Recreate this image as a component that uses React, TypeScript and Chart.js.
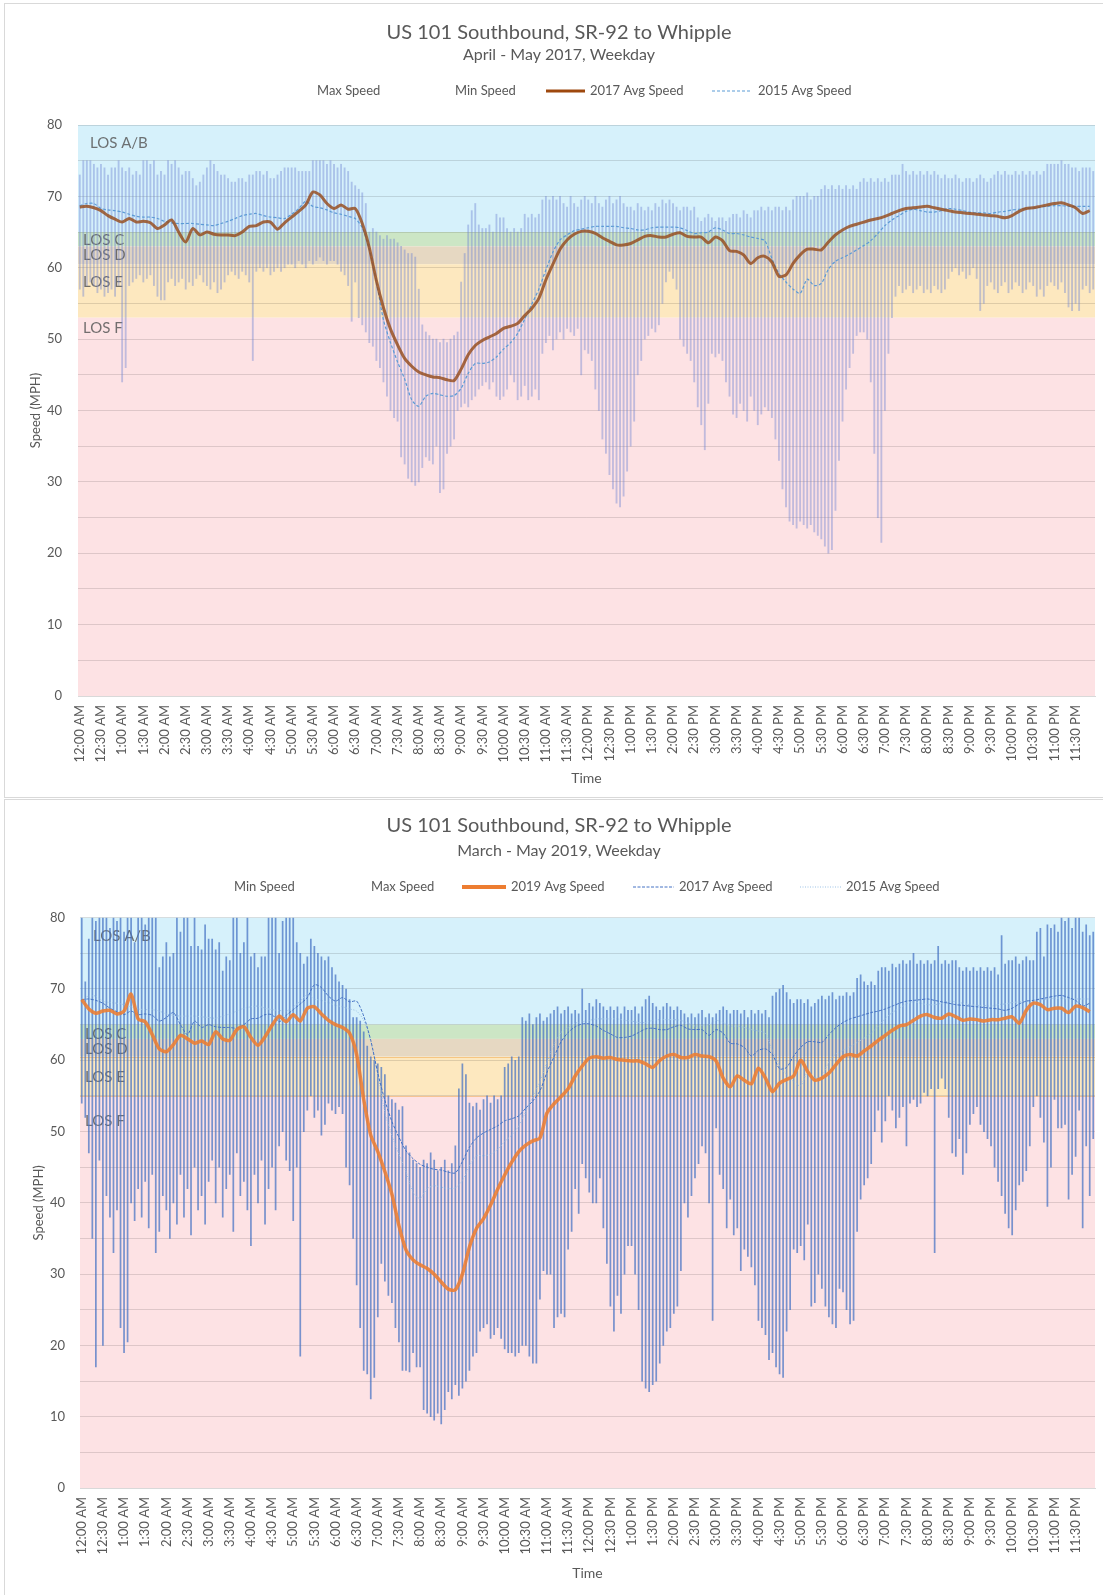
import React, { useEffect, useRef } from 'react';
import { Chart, registerables } from 'chart.js';

Chart.register(...registerables);

const FONT = 'Lato, "Open Sans", sans-serif';
const TEXT = '#595959';

const TIME_LABELS = [
  '12:00 AM', '12:30 AM', '1:00 AM', '1:30 AM', '2:00 AM', '2:30 AM', '3:00 AM', '3:30 AM',
  '4:00 AM', '4:30 AM', '5:00 AM', '5:30 AM', '6:00 AM', '6:30 AM', '7:00 AM', '7:30 AM',
  '8:00 AM', '8:30 AM', '9:00 AM', '9:30 AM', '10:00 AM', '10:30 AM', '11:00 AM', '11:30 AM',
  '12:00 PM', '12:30 PM', '1:00 PM', '1:30 PM', '2:00 PM', '2:30 PM', '3:00 PM', '3:30 PM',
  '4:00 PM', '4:30 PM', '5:00 PM', '5:30 PM', '6:00 PM', '6:30 PM', '7:00 PM', '7:30 PM',
  '8:00 PM', '8:30 PM', '9:00 PM', '9:30 PM', '10:00 PM', '10:30 PM', '11:00 PM', '11:30 PM',
];

const LOS_NAMES = ['LOS A/B', 'LOS C', 'LOS D', 'LOS E', 'LOS F'];
const LOS_BOUNDS_2017 = [80, 65, 63, 60.5, 53, 0];
const LOS_BOUNDS_2019 = [80, 65, 63, 60.5, 55, 0];
const LOS_COLORS = ['#d6f1fb', '#cce6c5', '#e6d8c2', '#fde8bf', '#fde2e4'];

// 5-minute bins (288 per day)
const MAX_2017 = [
  73, 75, 75, 75, 74.5, 74, 74.5, 74, 73, 74, 74, 75,
  74, 73.5, 74, 73, 73.5, 73, 75, 75, 74.5, 75, 73, 73.5,
  73, 75, 74.5, 75, 74, 73, 73.5, 73.5, 72.5, 71.5, 72, 73,
  74, 75, 74.5, 73.5, 73, 73, 72.5, 72, 72, 72.5, 72.5, 72,
  73, 73, 73.5, 73.5, 73, 73.5, 72.5, 72.5, 73, 73.5, 74, 74,
  74, 74, 73.5, 73.5, 73.5, 73.5, 75, 75, 75, 75, 74.5, 75,
  74.5, 74, 74.5, 74, 73.5, 72, 71.5, 71, 70.5, 69, 65, 65.5,
  65, 64.5, 64, 64.5, 64, 64, 63.5, 63, 62.5, 62, 62, 61.5,
  57, 52, 51, 50.5, 50, 50, 49.5, 50, 49.5, 50, 50.5, 51,
  58, 62, 66, 68, 69, 66, 65.5, 65.5, 66, 65, 67.5, 67,
  67, 65.5, 65, 65.5, 65, 65.5, 67.5, 67, 67.5, 67, 67.5, 69.5,
  70, 69.5, 70, 69.5, 70, 69, 68.5, 70, 69, 68.5, 69.5, 70,
  69.5, 69, 70, 69, 68.5, 69.5, 70, 69, 69.5, 70, 69, 68.5,
  68.5, 68, 69, 68.5, 68, 68.5, 68, 69, 68.5, 69.5, 69, 69.5,
  69, 68.5, 68, 68.5, 68.5, 68, 68.5, 67, 66.5, 67, 67.5, 67,
  66.5, 67, 67, 66.5, 67, 67.5, 67.5, 67, 68, 67.5, 67, 68,
  68, 68.5, 68, 68.5, 68, 68.5, 68.5, 68, 68.5, 68, 69.5, 70,
  70, 70, 70.5, 69.5, 70, 70, 71, 71.5, 71, 71.5, 71, 71.5,
  71, 71.5, 71, 71.5, 71, 72, 72.5, 72, 72.5, 72, 72.5, 72,
  72.5, 72, 73, 73, 73, 74.5, 73.5, 73, 73.5, 73, 73.5, 73,
  73.5, 73, 73.5, 73, 72.5, 73, 72.5, 72.5, 73, 72.5, 72, 72.5,
  72.5, 72, 72.5, 73, 72.5, 72, 72.5, 73, 73.5, 73, 73.5, 73,
  73, 73.5, 73, 73.5, 73, 73.5, 73, 73.5, 73, 73.5, 74.5, 74.5,
  74.5, 74.5, 75, 74.5, 74.5, 74, 74, 73.5, 74, 74, 74, 73.5,
];

const MIN_2017 = [
  57, 56, 57.5, 58, 57.5, 56.5, 57, 56, 56.5, 57, 56, 57.5,
  44, 46, 57.5, 58, 58.5, 59, 58, 58.5, 59, 57.5, 56, 55.5,
  55.5, 58, 58.5, 57.5, 58, 58.5, 57, 58, 57.5, 58.5, 59, 58,
  57.5, 57, 58, 56.5, 57, 58, 59, 59.5, 59, 58.5, 59.5, 59,
  58, 47, 59.5, 60, 59.5, 60, 59, 59.5, 60, 59.5, 60, 60.5,
  60.5, 60, 61, 60.5, 60, 61, 60.5, 61, 61.5, 61, 60.5, 61,
  61, 60.5, 59.5, 59, 57.5, 52.5, 58, 53, 52, 51, 49.5, 49,
  47, 46, 44, 42, 40, 39, 38.5, 33.5, 32.5, 30.5, 30, 29.5,
  30, 32, 33.5, 33, 32.5, 35, 28.5, 29, 34, 35, 36, 40,
  40.5, 41, 40.5, 41.5, 42, 43, 43.5, 44, 43, 44, 42, 41.5,
  42, 43, 45, 44, 41.5, 42, 43.5, 41.5, 42, 43, 41.5, 48,
  49.5, 50.5, 48.5, 50, 51, 50, 51.5, 51, 50.5, 51.5, 45, 48.5,
  48, 47, 43, 40, 36, 34, 31, 29, 27, 26.5, 28, 31.5,
  35, 38.5, 45, 47, 50, 50.5, 51.5, 51, 52, 55, 58, 59.5,
  58.5, 57, 50, 49, 48, 47, 44, 40.5, 38, 34.5, 41, 48,
  47.5, 48, 47, 44, 42, 39.5, 39, 41, 40, 38.5, 42, 40,
  38, 39.5, 40.5, 40, 39, 36, 33, 29, 26.5, 24.5, 24, 23.5,
  24.5, 24, 23.5, 24, 23, 22.5, 22, 21, 20, 20.5, 26, 33,
  38.5, 43, 46, 48, 50.5, 51, 51, 50, 44, 34, 25, 21.5,
  40, 48, 53, 56, 57.5, 56.5, 57, 57.5, 56.5, 57, 57.5, 56.5,
  57, 56.5, 57.5, 57, 56.5, 57, 58.5, 59.5, 60, 59, 59.5, 58.5,
  59, 60, 58.5, 54, 55, 57.5, 58, 57, 56.5, 57.5, 58, 56.5,
  57, 58, 57.5, 56.5, 57, 58, 57.5, 56, 57, 56, 57.5, 58,
  57.5, 57, 58, 56.5, 54.5, 54, 55, 54, 57, 57.5, 56.5, 57,
];

const MAX_2019 = [
  80, 71, 77, 80, 79.5, 80, 80, 80, 78.5, 80, 79.5, 80,
  78, 80, 80, 76.5, 80, 80, 79, 80, 80, 80, 73, 74.5,
  76.5, 74.5, 75, 80, 78, 80, 80, 76, 80, 76, 75.5, 79,
  77, 77, 75.5, 76.5, 72.5, 74.5, 74, 80, 80, 75, 76.5, 80,
  74.5, 75, 73, 74.5, 74.5, 80, 80, 80, 75, 79.5, 80, 80,
  80, 76.5, 75, 73.5, 74.5, 77, 76, 75, 74.5, 74, 74.5, 73,
  72, 71, 70.5, 70, 68.5, 66, 66, 65.5, 64, 62, 60.5, 60,
  59.5, 59, 58, 55, 54.5, 54, 53, 53.5, 48, 47, 46, 45.5,
  45, 46, 45.5, 47, 46, 44.5, 45, 46, 44.5, 45.5, 48, 56,
  59.5, 58, 54, 53.5, 54, 53, 54.5, 55, 54, 55, 54.5, 55,
  59, 59.5, 60.5, 60, 60.5, 66, 65.5, 66.5, 65, 66, 66.5, 65.5,
  66, 66.5, 67, 67.5, 66.5, 67, 67.5, 66.5, 67, 66.5, 70, 67,
  68, 67.5, 68.5, 68, 67.5, 67, 67.5, 67, 67.5, 66.5, 67.5, 67,
  67, 67.5, 66.5, 67.5, 68.5, 69, 68, 67.5, 67, 67.5, 68, 67.5,
  67, 67.5, 67, 66.5, 66, 66.5, 66, 66.5, 67, 66, 66.5, 66,
  66.5, 67, 67.5, 67, 66.5, 67, 67, 66.5, 67, 66, 67, 66.5,
  67, 66.5, 67, 66, 69, 69.5, 70, 70.5, 69.5, 68.5, 68, 68.5,
  68.5, 68, 68.5, 67.5, 68, 68.5, 69, 68.5, 69, 69.5, 68.5, 69,
  69, 69.5, 69, 69.5, 71.5, 72, 71, 70.5, 71, 70.5, 72.5, 73,
  73, 72.5, 73.5, 73, 73.5, 74, 73.5, 74, 75, 73.5, 74, 73.5,
  74, 73.5, 74, 76, 73.5, 74, 73.5, 74, 74, 73, 72.5, 73,
  72.5, 73, 72.5, 73, 72.5, 73, 72.5, 73, 72, 77.5, 73.5, 74,
  74, 74.5, 73.5, 74, 74.5, 74, 74, 78, 78.5, 74.5, 79, 78.5,
  79, 78, 80, 79.5, 80, 78.5, 80, 80, 78, 79, 77.5, 78,
];

const MIN_2019 = [
  54, 52, 47, 35, 17, 46, 20, 41, 38, 33, 39, 22.5,
  19, 20.5, 40, 37.5, 42, 38, 43, 36.5, 44, 33, 36, 41,
  39, 35, 40, 37, 44, 38, 42, 35.5, 45, 39, 41, 37,
  43, 46, 40, 45, 38, 42, 44, 36, 47, 41, 43, 39,
  34, 44, 40, 46, 37, 42, 45, 39, 48, 50, 46, 44.5,
  37.5, 45, 18.5, 50, 53, 55, 52, 53, 49.5, 51, 54, 53,
  52.5, 53.5, 52.5, 45, 42.5, 35, 28.5, 22.5, 16.5, 16, 12.5, 15.5,
  24, 31.5, 29, 27, 26, 22.5, 20.5, 16.5, 16.5, 16.3, 19, 17,
  17, 11, 10.5, 10, 9.5, 10.5, 9, 11, 13.5, 12.5, 14.5, 13,
  14, 15, 16.5, 18.5, 19, 22, 22.5, 23, 21, 21.5, 22.5, 21,
  19.5, 19, 19, 18.5, 19, 20, 20, 18.5, 17.5, 17.5, 26.5, 30.5,
  30, 30, 22.5, 24, 24.5, 24, 33.5, 36, 42, 38.5, 45.5, 43.5,
  41.5, 40, 40, 43.5, 36.5, 31.5, 25.5, 22, 27, 24.5, 30, 34,
  34, 30, 25, 15, 14, 13.5, 14.5, 15, 17.5, 20, 22, 22.5,
  24.5, 25.5, 30.5, 40, 38, 41, 43.5, 45.5, 48, 47, 40, 23.5,
  50.5, 44, 42, 36.5, 40.5, 35.5, 36.5, 30.5, 33.5, 32.5, 31, 28.5,
  23.5, 22.5, 21.5, 18, 19, 17, 16, 15.5, 22, 25, 33.5, 33,
  34, 32, 37, 25.5, 26, 30, 28, 25.5, 24, 23, 22.5, 28,
  27.5, 25, 23, 23.5, 36, 40.5, 42.5, 43.5, 45.5, 50, 53, 48.5,
  51.5, 55, 53, 50.5, 52, 53.5, 48, 54, 54.5, 53.5, 54, 55.5,
  55, 56, 33, 56, 57.5, 56, 52, 47, 46.5, 49, 44, 47,
  51, 52.5, 53.5, 51, 50, 49, 48, 45, 43, 41, 38.5, 36.5,
  35.5, 39, 42.5, 43, 44.5, 48, 53.5, 55, 52, 48.5, 39.5, 45,
  54.5, 50.5, 50.5, 51, 40.5, 44, 46.5, 53, 36.5, 48, 41, 49,
];

// 10-minute averages (144 per day)
const AVG_2017 = [
  68.5, 68.6, 68.4, 68.0, 67.3, 66.8,
  66.4, 66.9, 66.4, 66.5, 66.3, 65.5,
  66.0, 66.7, 65.0, 63.6, 65.5, 64.6,
  65.0, 64.7, 64.6, 64.6, 64.5, 65.0,
  65.8, 65.9, 66.4, 66.4, 65.4, 66.3,
  67.1, 67.9, 68.8, 70.6, 70.2, 69.0,
  68.3, 68.8, 68.2, 68.3, 66.2, 62.8,
  58.2, 54.4, 51.4, 49.2, 47.3, 46.2,
  45.4, 45.0, 44.7, 44.6, 44.3, 44.2,
  45.8, 47.8, 49.1, 49.8, 50.3, 50.8,
  51.5, 51.8, 52.2, 53.3, 54.3, 55.7,
  58.3, 60.5, 62.6, 63.9, 64.7, 65.1,
  65.1, 64.8, 64.2, 63.7, 63.2, 63.2,
  63.4, 63.9, 64.4, 64.5, 64.3, 64.3,
  64.7, 64.9, 64.4, 64.3, 64.3, 63.5,
  64.3, 63.8, 62.4, 62.3, 61.8, 60.6,
  61.4, 61.6, 60.8, 58.8, 59.0, 60.6,
  61.8, 62.6, 62.6, 62.5, 63.6, 64.6,
  65.3, 65.8, 66.1, 66.4, 66.7, 66.9,
  67.2, 67.6, 68.0, 68.3, 68.4, 68.5,
  68.6, 68.4, 68.2, 68.0, 67.8, 67.7,
  67.6, 67.5, 67.4, 67.3, 67.2, 67.0,
  67.3, 67.9, 68.3, 68.4, 68.6, 68.8,
  69.0, 69.1, 68.8, 68.4, 67.6, 68.0,
];

const AVG_2015 = [
  68.7, 69.0, 69.0, 68.3, 68.1, 68.0,
  67.8, 67.5, 67.2, 67.1, 67.1, 66.9,
  66.5, 66.3, 66.2, 66.2, 66.2, 66.1,
  66.0, 65.9, 66.2, 66.5, 66.9, 67.3,
  67.5, 67.6, 67.3, 67.1, 67.0, 66.9,
  67.5, 68.3, 69.3, 68.6, 68.4, 68.1,
  67.7, 67.5, 67.2, 66.9, 65.6, 62.6,
  58.0, 52.7, 49.5, 46.8, 44.4, 41.5,
  40.6, 42.0, 42.4, 42.2, 42.0, 42.1,
  43.1, 45.2, 46.6, 46.6, 46.8, 47.5,
  48.6, 49.5, 50.8, 52.8, 54.9, 57.0,
  59.7, 62.2, 63.9, 64.6, 65.2, 65.4,
  65.6, 65.8, 65.8, 65.8, 65.8, 65.6,
  65.5, 65.3, 65.3, 65.6, 65.7, 65.7,
  65.7, 65.6, 65.2, 64.8, 64.9, 65.0,
  65.6, 65.3, 64.8, 64.8, 64.6, 64.3,
  64.1, 63.8, 61.3, 59.2, 58.0, 57.0,
  56.4, 58.4, 57.5, 57.8, 59.8, 60.9,
  61.4, 61.9, 62.5, 63.1, 63.8, 64.8,
  65.9, 66.7, 67.3, 67.9, 68.2, 68.0,
  67.8, 67.8, 68.0, 68.3, 68.2, 68.0,
  67.8, 67.7, 67.7, 67.6, 67.8, 67.9,
  68.1, 68.2, 68.3, 68.4, 68.5, 68.6,
  68.7, 68.7, 68.6, 68.6, 68.6, 68.6,
];

const AVG_2019 = [
  68.5, 67.2, 66.6, 66.9, 67.0, 66.5,
  66.9, 69.3, 65.8, 65.4, 63.6, 61.6,
  61.2, 62.2, 63.5, 63.0, 62.4, 62.7,
  62.2, 64.0, 63.0, 62.8, 64.3, 64.7,
  63.2, 62.1, 63.3, 64.9, 66.2, 65.4,
  66.4, 65.5, 67.3, 67.5, 66.5, 65.6,
  65.0, 64.6, 63.8, 60.8, 54.5, 49.5,
  47.2, 44.4, 41.2, 36.8, 33.4, 32.0,
  31.3, 30.8, 30.0, 28.9, 27.9, 27.8,
  30.0, 33.8, 36.4, 37.8, 39.7, 41.9,
  43.9, 45.7, 47.2, 48.1, 48.7, 49.1,
  52.6, 53.9, 54.9, 56.0, 57.8, 59.2,
  60.3, 60.5, 60.3, 60.4, 60.1, 60.0,
  59.9, 59.9, 59.5, 59.0, 60.0, 60.6,
  60.8, 60.4, 60.4, 60.8, 60.6, 60.5,
  59.9, 57.5, 56.3, 57.8, 57.2, 56.7,
  58.9, 57.5, 55.6, 56.8, 57.3, 57.8,
  60.0, 58.4, 57.2, 57.5, 58.2, 59.4,
  60.5, 60.8, 60.6, 61.3, 62.0, 62.8,
  63.5, 64.2, 64.8, 65.0, 65.6, 66.2,
  66.4, 66.0, 65.9, 66.5, 66.1, 65.6,
  65.8, 65.7, 65.5, 65.7, 65.7, 65.9,
  66.1, 65.2, 67.0, 68.0, 67.8, 67.1,
  67.3, 67.3, 66.7, 67.6, 67.4, 66.8,
];

type LegendItem = {
  text: string;
  tx: number;
  line?: { x0: number; x1: number; color: string; width: number; dash: number[] };
};

type LineSpec = { label: string; data: number[]; color: string; width: number; dash: number[] };

type Spec = {
  title: string;
  subtitle: string;
  centerX: number;
  titleY: number;
  subtitleY: number;
  legendY: number;
  legend: LegendItem[];
  canvasHeight: number;
  padTop: number;
  yWidth: number;
  xHeight: number;
  padRight: number;
  yTitlePad: number;
  yTickPad: number;
  xTitlePadBottom: number;
  bounds: number[];
  edgeColor?: string;
  losY: number[];
  losDx: number[];
  minData: number[];
  maxData: number[];
  barColor: string;
  barThickness: number;
  lines: LineSpec[];
};

const SPEC_2017: Spec = {
  title: 'US 101 Southbound, SR-92 to Whipple',
  subtitle: 'April - May 2017, Weekday',
  centerX: 559,
  titleY: 33,
  subtitleY: 55,
  legendY: 91,
  legend: [
    { text: 'Max Speed', tx: 317 },
    { text: 'Min Speed', tx: 455 },
    { text: '2017 Avg Speed', tx: 590, line: { x0: 546, x1: 585, color: '#9e480e', width: 3, dash: [] } },
    { text: '2015 Avg Speed', tx: 758, line: { x0: 712, x1: 752, color: '#5b9bd5', width: 1.2, dash: [3, 2] } },
  ],
  canvasHeight: 797,
  padTop: 125,
  yWidth: 78,
  xHeight: 101,
  padRight: 8,
  yTitlePad: 28,
  yTickPad: 16,
  xTitlePadBottom: 10,
  bounds: LOS_BOUNDS_2017,
  losY: [77.5, 63.9, 61.8, 58, 51.5],
  losDx: [12, 5, 5, 5, 5],
  minData: MIN_2017,
  maxData: MAX_2017,
  barColor: 'rgba(110,130,210,0.42)',
  barThickness: 1.2,
  lines: [
    { label: '2017 Avg Speed', data: AVG_2017, color: 'rgba(150,76,28,0.82)', width: 3, dash: [] },
    { label: '2015 Avg Speed', data: AVG_2015, color: '#5b9bd5', width: 1.2, dash: [3, 2] },
  ],
};

const SPEC_2019: Spec = {
  title: 'US 101 Southbound, SR-92 to Whipple',
  subtitle: 'March - May 2019, Weekday',
  centerX: 559,
  titleY: 27,
  subtitleY: 52,
  legendY: 88,
  legend: [
    { text: 'Min Speed', tx: 234 },
    { text: 'Max Speed', tx: 371 },
    { text: '2019 Avg Speed', tx: 511, line: { x0: 462, x1: 506, color: '#ed7d31', width: 4, dash: [] } },
    { text: '2017 Avg Speed', tx: 679, line: { x0: 633, x1: 674, color: '#4472c4', width: 1, dash: [3, 1.5] } },
    { text: '2015 Avg Speed', tx: 846, line: { x0: 800, x1: 841, color: '#9dc3e6', width: 1, dash: [1, 1.5] } },
  ],
  canvasHeight: 796,
  padTop: 118.7,
  yWidth: 80,
  xHeight: 107,
  padRight: 8,
  yTitlePad: 31,
  yTickPad: 15,
  xTitlePadBottom: 13,
  bounds: LOS_BOUNDS_2019,
  edgeColor: 'rgba(240,170,80,0.55)',
  losY: [77.4, 63.7, 61.6, 57.6, 51.5],
  losDx: [13, 5, 5, 5, 5],
  minData: MIN_2019,
  maxData: MAX_2019,
  barColor: 'rgba(68,114,196,0.72)',
  barThickness: 1.05,
  lines: [
    { label: '2019 Avg Speed', data: AVG_2019, color: 'rgba(237,125,49,0.88)', width: 3.5, dash: [] },
    { label: '2017 Avg Speed', data: AVG_2017, color: '#4472c4', width: 1, dash: [3, 1.5] },
    { label: '2015 Avg Speed', data: AVG_2015, color: '#9dc3e6', width: 1, dash: [1, 1.5] },
  ],
};

function makePlugin(spec: Spec) {
  return {
    id: 'losDecor',
    beforeDraw(chart: any) {
      const { ctx, chartArea: a } = chart;
      const y = chart.scales.y;
      ctx.save();
      for (let k = 0; k < LOS_NAMES.length; k++) {
        const t = y.getPixelForValue(spec.bounds[k]);
        const b = y.getPixelForValue(spec.bounds[k + 1]);
        ctx.fillStyle = LOS_COLORS[k];
        ctx.fillRect(a.left, t, a.right - a.left, b - t);
      }
      if (spec.edgeColor) {
        ctx.strokeStyle = spec.edgeColor;
        ctx.lineWidth = 1;
        [spec.bounds[3], spec.bounds[4]].forEach((v) => {
          const p = Math.round(y.getPixelForValue(v)) + 0.5;
          ctx.beginPath();
          ctx.moveTo(a.left, p);
          ctx.lineTo(a.right, p);
          ctx.stroke();
        });
      }
      ctx.restore();
    },
    beforeDatasetsDraw(chart: any) {
      const { ctx, chartArea: a } = chart;
      const y = chart.scales.y;
      ctx.save();
      ctx.font = `15px ${FONT}`;
      ctx.fillStyle = 'rgba(89,89,89,0.85)';
      ctx.textAlign = 'left';
      ctx.textBaseline = 'middle';
      LOS_NAMES.forEach((name, k) => {
        ctx.fillText(name, a.left + spec.losDx[k], y.getPixelForValue(spec.losY[k]));
      });
      ctx.restore();
    },
    afterDraw(chart: any) {
      const ctx = chart.ctx;
      ctx.save();
      ctx.fillStyle = TEXT;
      ctx.textAlign = 'center';
      ctx.textBaseline = 'middle';
      ctx.font = `20px ${FONT}`;
      ctx.fillText(spec.title, spec.centerX, spec.titleY);
      ctx.font = `16px ${FONT}`;
      ctx.fillText(spec.subtitle, spec.centerX, spec.subtitleY);
      ctx.font = `13px ${FONT}`;
      ctx.textAlign = 'left';
      spec.legend.forEach((item) => {
        if (item.line) {
          ctx.save();
          ctx.strokeStyle = item.line.color;
          ctx.lineWidth = item.line.width;
          ctx.setLineDash(item.line.dash);
          ctx.beginPath();
          ctx.moveTo(item.line.x0, spec.legendY);
          ctx.lineTo(item.line.x1, spec.legendY);
          ctx.stroke();
          ctx.restore();
        }
        ctx.fillText(item.text, item.tx, spec.legendY);
      });
      ctx.restore();
    },
  };
}

function buildConfig(spec: Spec): any {
  const datasets: any[] = spec.lines.map((l, k) => ({
    type: 'line',
    label: l.label,
    data: l.data.map((v, j) => ({ x: j * 2, y: v })),
    borderColor: l.color,
    borderWidth: l.width,
    borderDash: l.dash,
    pointRadius: 0,
    pointHoverRadius: 0,
    tension: 0.25,
    fill: false,
    order: k,
  }));
  datasets.push({
    type: 'bar',
    label: 'Min - Max Speed',
    data: spec.maxData.map((v, i) => ({ x: i, y: [spec.minData[i], v] })),
    backgroundColor: spec.barColor,
    borderWidth: 0,
    barThickness: spec.barThickness,
    order: 10,
  });

  return {
    type: 'bar',
    data: { datasets },
    plugins: [makePlugin(spec)],
    options: {
      animation: false,
      responsive: false,
      events: [],
      layout: { padding: { top: spec.padTop, right: spec.padRight, bottom: 0, left: 0 } },
      plugins: {
        legend: { display: false },
        title: { display: false },
        tooltip: { enabled: false },
      },
      scales: {
        x: {
          type: 'linear',
          min: -0.5,
          max: 287.5,
          offset: false,
          grid: { display: false, drawTicks: false, offset: false },
          border: { display: true, color: '#d9d9d9', width: 1 },
          afterBuildTicks: (s: any) => {
            s.ticks = TIME_LABELS.map((_, k) => ({ value: k * 6 }));
          },
          afterFit: (s: any) => {
            s.height = spec.xHeight;
          },
          ticks: {
            autoSkip: false,
            minRotation: 90,
            maxRotation: 90,
            padding: 9,
            color: TEXT,
            font: { family: FONT, size: 13 },
            callback: (v: any) => TIME_LABELS[Math.round(Number(v) / 6)] ?? '',
          },
          title: {
            display: true,
            text: 'Time',
            color: TEXT,
            font: { family: FONT, size: 14 },
            padding: { top: 0, bottom: spec.xTitlePadBottom },
          },
        },
        y: {
          min: 0,
          max: 80,
          grid: { color: 'rgba(0,0,0,0.12)', drawTicks: false, lineWidth: 1 },
          border: { display: false },
          afterFit: (s: any) => {
            s.width = spec.yWidth;
          },
          ticks: {
            stepSize: 5,
            padding: spec.yTickPad,
            color: TEXT,
            font: { family: FONT, size: 13 },
            callback: (v: any) => (Number(v) % 10 === 0 ? String(v) : ''),
          },
          title: {
            display: true,
            text: 'Speed (MPH)',
            color: TEXT,
            font: { family: FONT, size: 13 },
            padding: { top: spec.yTitlePad, bottom: 0 },
          },
        },
      },
    },
  };
}

function SpeedChart({ spec, top }: { spec: Spec; top: number }) {
  const ref = useRef<HTMLCanvasElement | null>(null);
  useEffect(() => {
    const canvas = ref.current;
    if (!canvas) return;
    const chart = new Chart(canvas, buildConfig(spec));
    return () => chart.destroy();
  }, [spec]);
  return (
    <canvas
      ref={ref}
      width={1103}
      height={spec.canvasHeight}
      style={{ position: 'absolute', left: 0, top, width: 1103, height: spec.canvasHeight }}
    />
  );
}

export default function App() {
  return (
    <div
      style={{
        position: 'absolute',
        left: 0,
        top: 0,
        width: 1103,
        height: 1595,
        background: '#ffffff',
        overflow: 'hidden',
      }}
    >
      <div
        style={{
          position: 'absolute', left: 4, top: 3, width: 1120, height: 795,
          border: '1px solid #d9d9d9', boxSizing: 'border-box',
        }}
      />
      <div
        style={{
          position: 'absolute', left: 4, top: 799, width: 1120, height: 820,
          border: '1px solid #d9d9d9', boxSizing: 'border-box',
        }}
      />
      <SpeedChart spec={SPEC_2017} top={0} />
      <SpeedChart spec={SPEC_2019} top={799} />
    </div>
  );
}
